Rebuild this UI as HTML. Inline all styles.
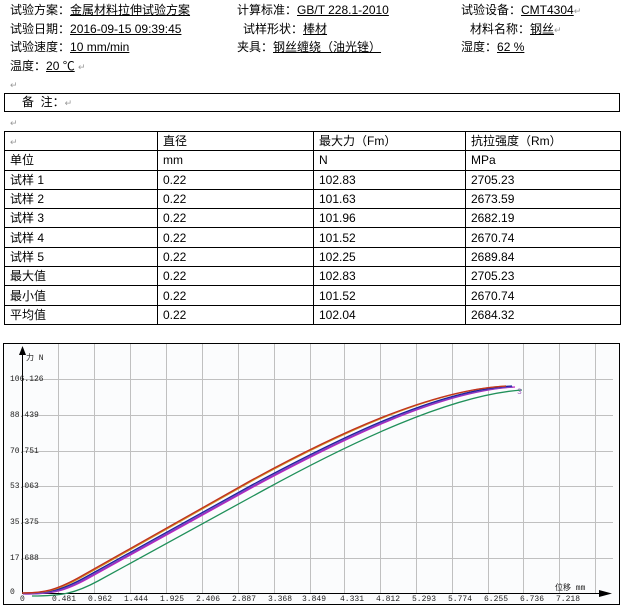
<!DOCTYPE html>
<html><head><meta charset="utf-8"><style>
body{margin:0;width:627px;height:610px;background:#fff;position:relative;overflow:hidden;font-family:"Liberation Sans","Noto Sans CJK SC","WenQuanYi Zen Hei",sans-serif;font-size:12px;color:#000}
.t{position:absolute;white-space:nowrap;line-height:14px}
u{text-decoration:underline}
.m{color:#999;font-size:9px}
table{position:absolute;left:4px;top:131px;border-collapse:collapse;width:617px}
td{border:1px solid #000;height:18.3px;padding:0 0 0 5px;font-size:12px;line-height:14px}
</style></head><body>
<div class="t" style="left:10px;top:3px">试验方案：<u>金属材料拉伸试验方案</u></div>
<div class="t" style="left:237px;top:3px">计算标准：<u>GB/T 228.1-2010</u></div>
<div class="t" style="left:461px;top:3px">试验设备：<u>CMT4304</u><span class="m">↵</span></div>
<div class="t" style="left:10px;top:22px">试验日期：<u>2016-09-15 09:39:45</u></div>
<div class="t" style="left:243px;top:22px">试样形状：<u>棒材</u></div>
<div class="t" style="left:470px;top:22px">材料名称：<u>钢丝</u><span class="m">↵</span></div>
<div class="t" style="left:10px;top:40px">试验速度：<u>10 mm/min</u></div>
<div class="t" style="left:237px;top:40px">夹具：<u>钢丝缠绕（油光锉）</u></div>
<div class="t" style="left:461px;top:40px">湿度：<u>62 %</u></div>
<div class="t" style="left:10px;top:59px">温度：<u>20 ℃</u> <span class="m">↵</span></div>
<div class="t m" style="left:10px;top:78px">↵</div>
<div style="position:absolute;left:4px;top:93px;width:614px;height:17px;border:1px solid #000"></div>
<div class="t" style="left:22px;top:95px">备&nbsp;&nbsp;注：<span class="m">↵</span></div>
<div class="t m" style="left:10px;top:116px">↵</div>
<table>
<tr><td style="width:147px"><span class="m">↵</span></td><td style="width:150px">直径</td><td style="width:146px">最大力（Fm）</td><td>抗拉强度（Rm）</td></tr>
<tr><td>单位</td><td>mm</td><td>N</td><td>MPa</td></tr>
<tr><td>试样 1</td><td>0.22</td><td>102.83</td><td>2705.23</td></tr>
<tr><td>试样 2</td><td>0.22</td><td>101.63</td><td>2673.59</td></tr>
<tr><td>试样 3</td><td>0.22</td><td>101.96</td><td>2682.19</td></tr>
<tr><td>试样 4</td><td>0.22</td><td>101.52</td><td>2670.74</td></tr>
<tr><td>试样 5</td><td>0.22</td><td>102.25</td><td>2689.84</td></tr>
<tr><td>最大值</td><td>0.22</td><td>102.83</td><td>2705.23</td></tr>
<tr><td>最小值</td><td>0.22</td><td>101.52</td><td>2670.74</td></tr>
<tr><td>平均值</td><td>0.22</td><td>102.04</td><td>2684.32</td></tr>
</table>
<svg style="position:absolute;left:0;top:0" width="627" height="610">
<rect x="3.5" y="343.5" width="616" height="261" fill="#fbfcfd" stroke="#000"/>
<g stroke="#c0c0c0" stroke-width="1">
<line x1="22" y1="379.5" x2="613" y2="379.5"/><line x1="22" y1="415.5" x2="613" y2="415.5"/><line x1="22" y1="451.5" x2="613" y2="451.5"/><line x1="22" y1="486.5" x2="613" y2="486.5"/><line x1="22" y1="522.5" x2="613" y2="522.5"/><line x1="22" y1="558.5" x2="613" y2="558.5"/>
<line x1="58.5" y1="344" x2="58.5" y2="593"/><line x1="94.5" y1="344" x2="94.5" y2="593"/><line x1="130.5" y1="344" x2="130.5" y2="593"/><line x1="166.5" y1="344" x2="166.5" y2="593"/><line x1="202.5" y1="344" x2="202.5" y2="593"/><line x1="238.5" y1="344" x2="238.5" y2="593"/><line x1="274.5" y1="344" x2="274.5" y2="593"/><line x1="310.5" y1="344" x2="310.5" y2="593"/><line x1="344.5" y1="344" x2="344.5" y2="593"/><line x1="380.5" y1="344" x2="380.5" y2="593"/><line x1="416.5" y1="344" x2="416.5" y2="593"/><line x1="452.5" y1="344" x2="452.5" y2="593"/><line x1="488.5" y1="344" x2="488.5" y2="593"/><line x1="523.5" y1="344" x2="523.5" y2="593"/><line x1="559.5" y1="344" x2="559.5" y2="593"/><line x1="595.5" y1="344" x2="595.5" y2="593"/>
</g>
<line x1="22.5" y1="350" x2="22.5" y2="593" stroke="#000"/>
<polygon points="22.5,346 19,355 26,355" fill="#000"/>
<line x1="22" y1="593.5" x2="604" y2="593.5" stroke="#000"/>
<polygon points="612,593.5 599,590 599,597" fill="#000"/>
<g fill="none" stroke-width="1.3">
<path d="M22,593 C52,593 66,590 88,578 L254,487 C340,440 440,392 512,387" stroke="#20905a" transform="translate(10,3)"/>
<path d="M22,593 C50,593 62,590 84,578 L252,485 C336,440 436,390 512,386" stroke="#c020c0" transform="translate(3,1)"/>
<path d="M22,593 C50,593 62,590 84,578 L252,485 C336,440 436,390 512,386" stroke="#8040c0" transform="translate(1,1)"/>
<path d="M22,593 C50,593 62,590 84,578 L252,485 C336,440 436,390 512,386" stroke="#2020a0"/>
<path d="M22,593 C46,593 58,590 80,578 L250,482 C334,436 432,390 506,386" stroke="#d09020"/>
<path d="M22,593 C44,593 56,590 78,578 L250,481 C334,435 430,390 506,386" stroke="#c03020"/>
</g>
<g font-size="8" fill="#222" font-family="Liberation Mono,monospace">
<text x="26" y="360">力 N</text>
<text x="10" y="381">106.126</text><text x="10" y="417">88.439</text><text x="10" y="453">70.751</text><text x="10" y="488">53.063</text><text x="10" y="524">35.375</text><text x="10" y="560">17.688</text><text x="10" y="594">0</text>
<text x="20" y="601">0</text><text x="52" y="601">0.481</text><text x="88" y="601">0.962</text><text x="124" y="601">1.444</text><text x="160" y="601">1.925</text><text x="196" y="601">2.406</text><text x="232" y="601">2.887</text><text x="268" y="601">3.368</text><text x="302" y="601">3.849</text><text x="340" y="601">4.331</text><text x="376" y="601">4.812</text><text x="412" y="601">5.293</text><text x="448" y="601">5.774</text><text x="484" y="601">6.255</text><text x="520" y="601">6.736</text><text x="556" y="601">7.218</text>
<text x="555" y="590">位移 mm</text>
<text x="517" y="394" fill="#a060c0">3</text>
</g>
</svg>
</body></html>
